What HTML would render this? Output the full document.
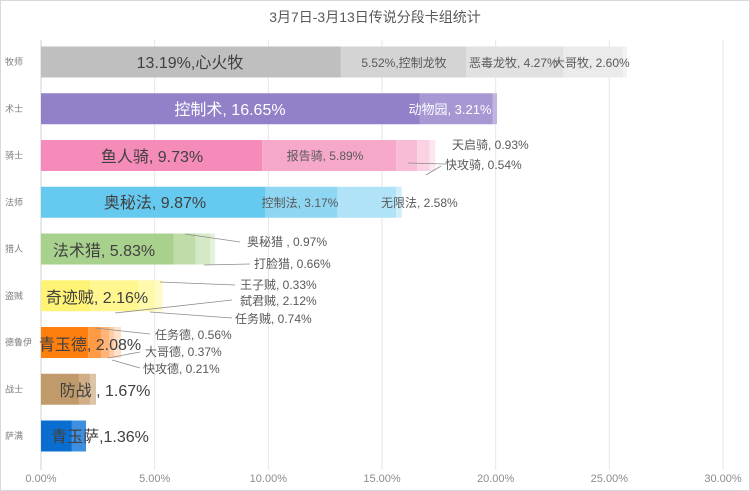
<!DOCTYPE html>
<html><head><meta charset="utf-8">
<style>
html,body{margin:0;padding:0;background:#fff;}
svg{display:block;font-family:"Liberation Sans","Noto Sans CJK SC",sans-serif;}
</style></head>
<body>
<svg id="chart" width="750" height="491" viewBox="0 0 750 491">
<rect x="0.5" y="0.5" width="749" height="490" fill="#fff" stroke="#d9d9d9"/>
<text x="375" y="22" text-anchor="middle" font-size="14" fill="#595959">3月7日-3月13日传说分段卡组统计</text>
<g id="grid"></g><g id="bars"></g><g id="labels"></g><g id="axis"></g>
</svg>
<script>
const classes = ["牧师","术士","骑士","法师","猎人","盗贼","德鲁伊","战士","萨满"];
const seg0 = [13.19,16.65,9.73,9.87,5.83,2.16,2.08,1.67,1.36];
const seg1 = [5.52,3.21,5.89,3.17,0.97,2.12,0.56,0.5,0.62];
const seg2 = [4.27,0.2,0.93,2.58,0.66,0.74,0.37,0.25,0];
const seg3 = [2.60,0,0.54,0.25,0.2,0.33,0.21,0,0];
const seg4 = [0.2,0,0.25,0,0,0,0.3,0,0];
const segs = [seg0,seg1,seg2,seg3,seg4];
const tickVals = [0,5,10,15,20,25,30];
const tickLabels = ["0.00%","5.00%","10.00%","15.00%","20.00%","25.00%","30.00%"];
const palette = [
 ["#bfbfbf","#d4d4d4","#e1e1e1","#ebebeb","#f2f2f2"],
 ["#9281c8","#a797d3","#c0b5e0","#fff","#fff"],
 ["#f48bb8","#f6a8ca","#f8bcd7","#fad2e4","#fce6ef"],
 ["#66c9ef","#8fd6f3","#b0e3f7","#d0eefa","#fff"],
 ["#a9d18e","#c0dda9","#d6e9c6","#e6f1dc","#fff"],
 ["#fff375","#fff68f","#fff9ac","#fffbc6","#fff"],
 ["#ff7f0e","#ff9a45","#ffb57a","#ffcca3","#ffe0c8"],
 ["#c19a6b","#cfae88","#dcc4a8","#fff","#fff"],
 ["#0a6ed1","#3f8fe0","#fff","#fff","#fff"]
];
const x0=41, x1=723, yTop=40, yBot=470;
function xs(v){return x0+(x1-x0)*v/30;}
function yc(i){return 62+i*46.75;}
const NS="http://www.w3.org/2000/svg";
function mk(tag,attrs,parent){const e=document.createElementNS(NS,tag);for(const k in attrs)e.setAttribute(k,attrs[k]);parent.appendChild(e);return e;}
const grid=document.getElementById('grid'), bars=document.getElementById('bars'), labels=document.getElementById('labels'), axis=document.getElementById('axis');
tickVals.forEach((v,i)=>{
  const l=mk('line',{x1:xs(v),x2:xs(v),y1:yTop,y2:yBot,stroke:i===0?'#d0d0d0':'#e6e6e6','stroke-width':1},grid);
  
  
  const t=mk('text',{x:xs(v),y:482,'text-anchor':'middle','font-size':11,fill:'#8c8c8c'},axis);
  t.textContent=tickLabels[i];
  
  
});
classes.forEach((c,i)=>{
  const t=mk('text',{x:5,y:yc(i)+3,'font-size':9,fill:'#7f7f7f'},axis);
  t.textContent=c;
  
  
  let acc=0;
  segs.forEach((s,k)=>{
    const v=s[i]; if(!v) return;
    const r=mk('rect',{x:xs(acc),y:yc(i)-15.5,width:xs(acc+v)-xs(acc),height:31,fill:palette[i][k]},bars);
    
    
    acc+=v;
  });
});
function lab(txt,x,y,size,fill,anchor){
  const t=mk('text',{x:x,y:y,'font-size':size,fill:fill,'text-anchor':anchor||'start'},labels);
  t.textContent=txt;
  
  
}
function ln(pts){
  const p=mk('polyline',{points:pts,fill:'none',stroke:'#8c8c8c','stroke-width':0.8},labels);
  
  
}
lab("13.19%,心火牧",190,68,16,"#404040","middle");
lab("5.52%,控制龙牧",404,67,12,"#595959","middle");
lab("恶毒龙牧, 4.27%",469,67,12,"#595959");
lab("大哥牧, 2.60%",553,67,12,"#595959");
lab("控制术, 16.65%",230,115,16,"#fff","middle");
lab("动物园, 3.21%",450,114,13,"#fff","middle");
lab("鱼人骑, 9.73%",152,162,16,"#404040","middle");
lab("报告骑, 5.89%",325,160,12,"#595959","middle");
lab("天启骑, 0.93%",452,149,12,"#595959");
lab("快攻骑, 0.54%",445,169,12,"#595959");
ln("408,163 445,164"); ln("426,175 441,166");
lab("奥秘法, 9.87%",155,208,16,"#404040","middle");
lab("控制法, 3.17%",300,207,12,"#595959","middle");
lab("无限法, 2.58%",381,207,12,"#595959");
lab("法术猎, 5.83%",104,256,16,"#404040","middle");
lab("奥秘猎 , 0.97%",247,246,12,"#595959");
lab("打脸猎, 0.66%",254,268,12,"#595959");
ln("185,234 240,242"); ln("204,265 250,264");
lab("奇迹贼, 2.16%",97,303,16,"#404040","middle");
lab("王子贼, 0.33%",240,289,12,"#595959");
lab("弑君贼, 2.12%",240,305,12,"#595959");
lab("任务贼, 0.74%",235,323,12,"#595959");
ln("160,282 235,285"); ln("115,313 232,300"); ln("150,312 232,318");
lab("青玉德, 2.08%",90,350,16,"#404040","middle");
lab("任务德, 0.56%",155,339,12,"#595959");
lab("大哥德, 0.37%",145,356,12,"#595959");
lab("快攻德, 0.21%",143,373,12,"#595959");
ln("95,328 150,334"); ln("108,358 140,352"); ln("112,360 140,368");
lab("防战 ,  1.67%",105,396,16,"#404040","middle");
lab("青玉萨,1.36%",100,442,16,"#404040","middle");
</script>
</body></html>
